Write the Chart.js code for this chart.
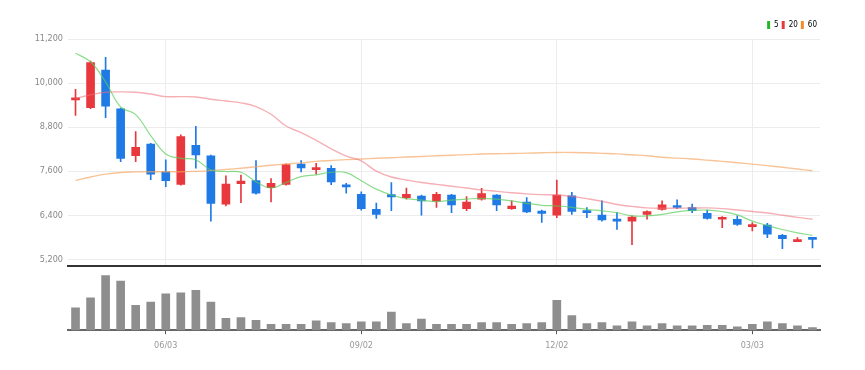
<!DOCTYPE html>
<html>
<head>
<meta charset="utf-8">
<script src="https://cdn.jsdelivr.net/npm/chart.js@4.4.1/dist/chart.umd.min.js"></script>
<style>
  body { margin: 0; background: #fff; }
  canvas { display: block; }
  #vol { margin-top: -8px; }
</style>
</head>
<body>
<canvas id="price" width="865" height="276"></canvas>
<canvas id="vol" width="865" height="102"></canvas>
<script>
// weekly candles
const labels = ['04/22','04/29','05/06','05/13','05/20','05/27','06/03','06/10','06/17','06/24',
  '07/01','07/08','07/15','07/22','07/29','08/05','08/12','08/19','08/26','09/02',
  '09/09','09/16','09/23','09/30','10/07','10/14','10/21','10/28','11/04','11/11',
  '11/18','11/25','12/02','12/09','12/16','12/23','12/30','01/06','01/13','01/20',
  '01/27','02/03','02/10','02/17','02/24','03/03','03/10','03/17','03/24','03/31'];
const tickLabels = ['06/03', '09/02', '12/02', '03/03'];
const priceTicks = [5200, 6400, 7600, 8800, 10000, 11200];

const open  = [9540,9330,10350,9300,8020,8340,7580,7240,8300,8020,6700,7260,7340,7150,7240,7790,7640,7680,7230,6970,
  6560,6960,6880,6920,6780,6950,6580,6840,6950,6580,6760,6510,6400,6930,6520,6400,6290,6240,6420,6560,
  6650,6610,6450,6290,6290,6090,6130,5850,5680,5780];
const high  = [9830,10600,10700,9320,8680,8360,7910,8590,8820,8040,7470,7490,7890,7400,7800,7890,7810,7750,7270,7040,
  6730,7290,7140,6950,7020,6970,6910,7130,6960,6790,6880,6540,7360,7020,6610,6790,6470,6380,6520,6790,
  6820,6700,6540,6360,6380,6200,6180,5880,5790,5780];
const low   = [9120,9300,9060,7860,7860,7370,7180,7220,7680,6240,6650,6740,6970,6760,7220,7580,7520,7230,7000,6540,
  6310,6520,6840,6400,6610,6470,6520,6810,6520,6560,6470,6200,6330,6420,6330,6240,6010,5600,6290,6540,
  6580,6470,6290,6060,6120,5970,5790,5490,5680,5510];
const close = [9590,10560,9370,7950,8250,7520,7340,8540,8040,6720,7250,7330,7000,7270,7780,7690,7690,7310,7170,6580,
  6420,6900,6970,6790,6970,6680,6760,6990,6680,6650,6490,6450,6950,6500,6470,6270,6240,6350,6500,6680,
  6610,6520,6310,6320,6150,6120,5880,5760,5710,5740];

const ma5  = [10810,10580,10030,9350,9140,8570,8070,7950,7910,7630,7590,7570,7310,7140,7290,7450,7500,7570,7560,7340,
  7110,6950,6850,6810,6770,6810,6840,6860,6840,6790,6720,6670,6650,6615,6560,6520,6470,6380,6380,6420,
  6490,6530,6540,6500,6410,6240,6120,6010,5920,5850];
const ma20 = [9580,9680,9750,9760,9750,9700,9630,9630,9620,9560,9510,9460,9360,9150,8830,8650,8440,8210,8010,7880,
  7600,7440,7360,7290,7240,7190,7140,7090,7050,7010,6980,6960,6950,6910,6850,6780,6690,6640,6600,6590,
  6590,6595,6600,6580,6540,6500,6460,6400,6340,6290];
const ma60 = [7350,7440,7520,7565,7580,7584,7584,7584,7595,7615,7645,7680,7720,7760,7794,7825,7865,7890,7915,7932,
  7950,7967,7985,8000,8018,8035,8050,8068,8075,8080,8090,8100,8110,8110,8100,8085,8070,8045,8020,7977,
  7955,7932,7900,7865,7830,7790,7750,7705,7660,7611];

const volume = [226,326,550,493,250,283,366,376,400,283,120,126,100,60,60,60,93,76,66,83,
  83,183,66,113,60,60,60,76,76,60,66,76,300,146,66,76,43,83,43,66,
  43,43,50,50,33,60,83,66,43,26];

const UP = '#e8383d', DOWN = '#1f7ae6';
const candleColor = ctx => close[ctx.dataIndex] >= open[ctx.dataIndex] ? UP : DOWN;
const showTick = i => tickLabels.includes(labels[i]);
const font = { family: '"Liberation Sans Narrow", "DejaVu Sans Condensed", sans-serif', size: 9 };

new Chart(document.getElementById('price'), {
  type: 'bar',
  data: {
    labels: labels,
    datasets: [
      {
        label: 'wick',
        data: labels.map((_, i) => [low[i], high[i]]),
        backgroundColor: candleColor,
        barThickness: 1,
        grouped: false,
        order: 3
      },
      {
        label: 'body',
        data: labels.map((_, i) => [open[i], close[i]]),
        backgroundColor: candleColor,
        barThickness: 8,
        minBarLength: 2,
        grouped: false,
        order: 2
      },
      { type: 'line', label: '5', data: ma5, borderColor: 'rgba(90,205,90,0.7)', borderWidth: 1.2, pointRadius: 0, tension: 0.4, order: 1 },
      { type: 'line', label: '20', data: ma20, borderColor: 'rgba(238,110,120,0.55)', borderWidth: 1.4, pointRadius: 0, tension: 0.4, order: 1 },
      { type: 'line', label: '60', data: ma60, borderColor: 'rgba(245,165,95,0.65)', borderWidth: 1.4, pointRadius: 0, tension: 0.4, order: 1 }
    ]
  },
  options: {
    responsive: false,
    animation: false,
    layout: { padding: { top: 18, right: 45, bottom: 2, left: 0 } },
    plugins: {
      tooltip: { enabled: false },
      legend: {
        position: 'top',
        align: 'end',
        labels: {
          font: { family: font.family, size: 8 },
          color: '#777',
          boxWidth: 3,
          boxHeight: 8,
          padding: 3,
          generateLabels: () => [
            { text: '5', fillStyle: '#27b527', strokeStyle: '#27b527', lineWidth: 0, datasetIndex: 2 },
            { text: '20', fillStyle: '#e8383d', strokeStyle: '#e8383d', lineWidth: 0, datasetIndex: 3 },
            { text: '60', fillStyle: '#f08c2a', strokeStyle: '#f08c2a', lineWidth: 0, datasetIndex: 4 }
          ]
        }
      }
    },
    scales: {
      x: {
        offset: true,
        ticks: { display: false },
        grid: {
          offset: false,
          drawTicks: false,
          color: c => showTick(c.index) ? '#ececec' : 'rgba(0,0,0,0)'
        },
        border: { color: '#333', width: 2 }
      },
      y: {
        min: 5027,
        max: 11200,
        afterBuildTicks: s => { s.ticks = priceTicks.map(v => ({ value: v })); },
        afterFit: s => { s.width = 68; },
        ticks: {
          font: font,
          color: '#888',
          padding: 5,
          callback: v => v.toLocaleString('en-US')
        },
        grid: { color: '#ececec', drawTicks: false },
        border: { display: false }
      }
    }
  }
});

new Chart(document.getElementById('vol'), {
  type: 'bar',
  data: {
    labels: labels,
    datasets: [{
      label: 'volume',
      data: volume,
      backgroundColor: '#8e8e8e',
      barThickness: 8
    }]
  },
  options: {
    responsive: false,
    animation: false,
    layout: { padding: { top: 6, right: 45, bottom: 13, left: 0 } },
    plugins: { legend: { display: false }, tooltip: { enabled: false } },
    scales: {
      x: {
        offset: true,
        ticks: {
          autoSkip: false,
          maxRotation: 0,
          font: font,
          color: '#999',
          padding: 6,
          callback: (v, i) => showTick(i) ? labels[i] : ''
        },
        grid: {
          offset: false,
          drawOnChartArea: false,
          tickLength: 4,
          tickColor: c => showTick(c.index) ? '#555' : 'rgba(0,0,0,0)'
        },
        border: { color: '#666', width: 2 }
      },
      y: {
        min: 0,
        max: 565,
        afterFit: s => { s.width = 68; },
        ticks: { display: false },
        grid: { display: false },
        border: { display: false }
      }
    }
  }
});
</script>
</body>
</html>
